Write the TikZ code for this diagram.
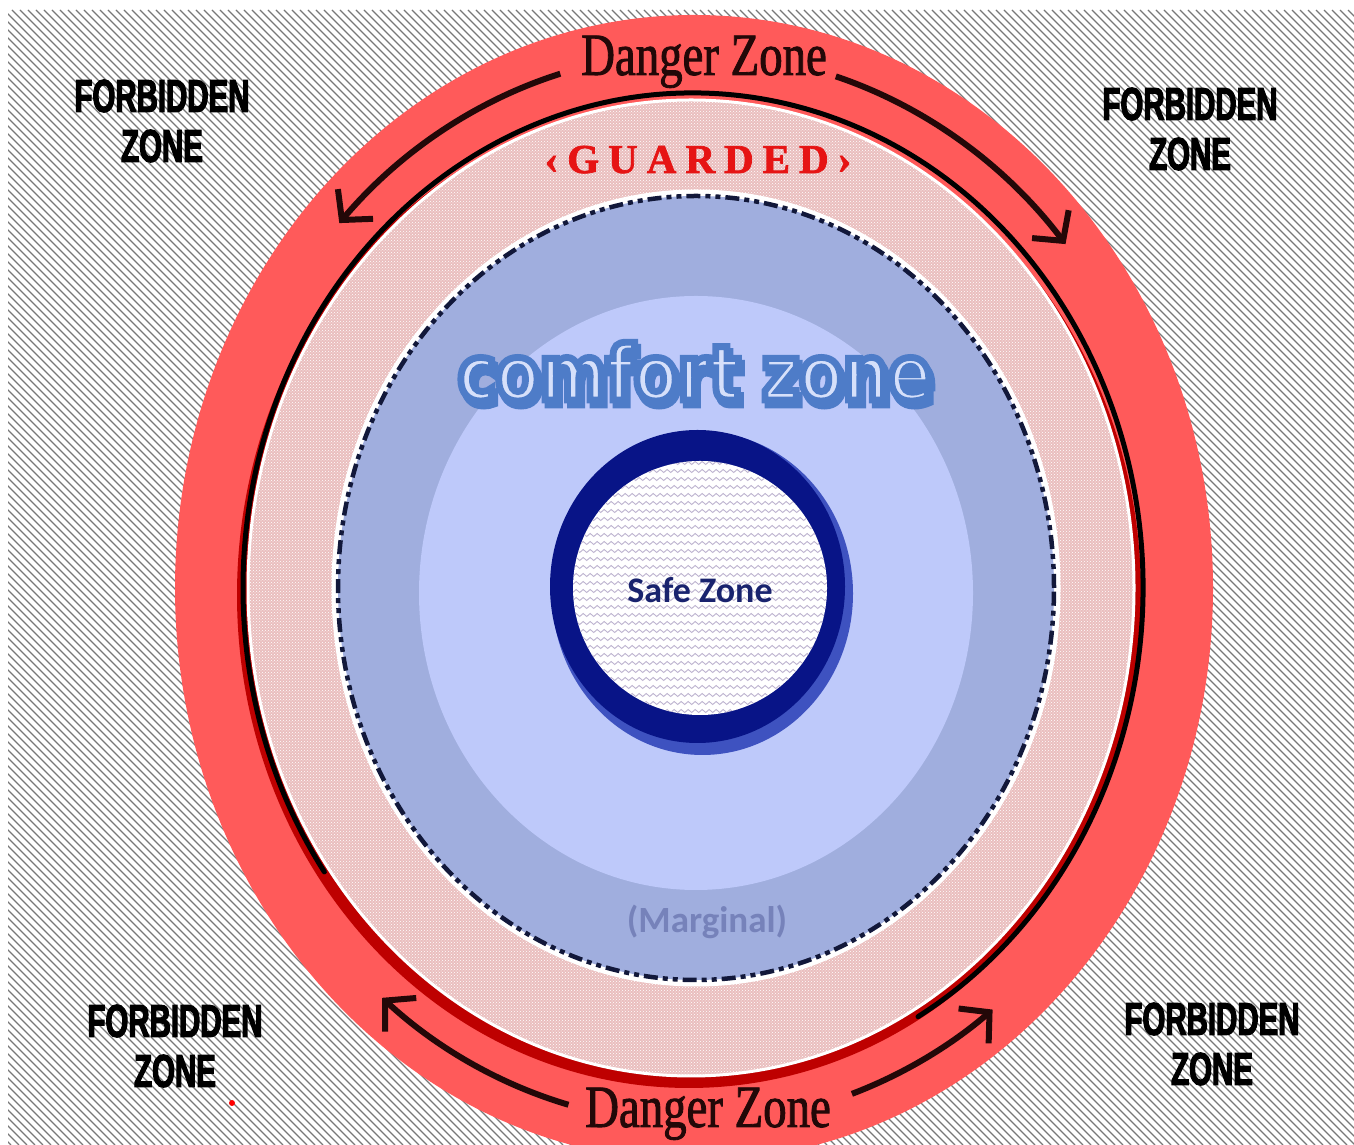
\documentclass[tikz,border=0pt]{standalone}
\usepackage{fontspec}
\usepackage{tikz}
\usetikzlibrary{arrows.meta, patterns, decorations.pathmorphing}
\newfontfamily\dangerfont[FakeStretch=0.78,FakeBold=1.4]{Liberation Serif}
\newfontfamily\guardfont[LetterSpace=22,FakeBold=1.8]{Liberation Serif}
\newfontfamily\forbfont[FakeStretch=0.64,FakeBold=2.5]{Liberation Sans}
\newfontfamily\comfortfont[FakeStretch=0.84,FakeBold=9]{DejaVu Sans}
\newfontfamily\calfont{Carlito}
\definecolor{dangerred}{RGB}{255, 90, 90}
\definecolor{rimred}{RGB}{190, 0, 0}
\definecolor{guardpink}{RGB}{234, 190, 190}
\definecolor{marginblue}{RGB}{160, 174, 222}
\definecolor{comfortblue}{RGB}{190, 201, 250}
\definecolor{outlineblue}{RGB}{78, 124, 200}
\definecolor{letterblue}{RGB}{214, 224, 250}
\definecolor{safenavy}{RGB}{8, 20, 135}
\definecolor{safeedge}{RGB}{62, 82, 192}
\definecolor{safetext}{RGB}{25, 35, 110}
\definecolor{margintext}{RGB}{118, 130, 186}
\definecolor{hatchgray}{RGB}{120, 120, 120}
\definecolor{wavegray}{RGB}{190, 180, 208}
\definecolor{dashnavy}{RGB}{18, 24, 58}
\definecolor{inkdark}{RGB}{35, 8, 8}
\definecolor{guardred}{RGB}{230, 20, 20}
% stroke colour for the outlined lettering
\newcommand{\outlinestroke}{\special{pdf:code 0.306 0.486 0.784 RG}}

\begin{document}
\begin{tikzpicture}[
    x=1pt, y=1pt,
    hatchline/.style={draw=hatchgray, line width=1.3},
    waveline/.style={
        draw=wavegray,
        line width=0.9,
        decorate,
        decoration={snake, amplitude=1.5, segment length=7}
    },
    blackrim/.style={draw=black, line width=5, line cap=round},
    guardzone/.style={
        pattern=crosshatch dots,
        pattern color=white,
        preaction={fill=guardpink},
        draw=white,
        line width=3
    },
    dashrim/.style={
        draw=dashnavy,
        line width=4.5,
        dash pattern=on 14 off 5 on 5 off 5 on 5 off 5
    },
    flowarrow/.style={
        draw=inkdark,
        line width=6,
        -{Straight Barb[length=21, width=46, line width=6]}
    },
    dangerlabel/.style={
        anchor=base,
        inner sep=0pt,
        text=inkdark,
        font=\dangerfont\fontsize{60}{66}\selectfont
    },
    forbidlabel/.style={
        align=center,
        inner sep=0pt,
        text=black,
        font=\forbfont\bfseries\fontsize{46}{50}\selectfont
    },
    comfortlabel/.style={
        anchor=base,
        inner sep=0pt,
        font=\comfortfont\bfseries\fontsize{76}{80}\selectfont
    }
]

    % Frame
    \useasboundingbox (0,0) rectangle (1354,1145);
    \fill[white] (0,0) rectangle (1354,1145);
    \begin{scope}
        \clip (8,0) rectangle (1354,1135);
        \foreach \k in {-1140,-1132,...,1354}
            \draw[hatchline] (\k,1135) -- ++(1135,-1135);
    \end{scope}

    % Rings
    \coordinate (ctr) at (694,557);
    \fill[dangerred] (ctr) ellipse [x radius=519, y radius=573];
    \fill[rimred] (689,550) ellipse [x radius=452, y radius=493];
    \draw[blackrim] ([shift={(-60:450 and 495)}]693,557)
        arc[start angle=-60, end angle=215, x radius=450, y radius=495];
    \path[guardzone] (691,557) ellipse [x radius=443, y radius=488];
    \draw[white, line width=9] (696,557) ellipse [x radius=360, y radius=394];
    \fill[marginblue] (696,557) ellipse [x radius=358, y radius=392];
    \draw[dashrim] (696,557) ellipse [x radius=358, y radius=392];
    \fill[comfortblue] (696,552) ellipse [x radius=277, y radius=297];

    % Comfort zone lettering
    \node[comfortlabel, text=outlineblue] (comfort_shadow) at (698,740) {comfort zone};
    \node[comfortlabel, text=letterblue] (comfort) at (695,745) {\outlinestroke comfort zone};

    % Safe zone
    \fill[safeedge] (702.5,551.5) ellipse [x radius=150.5, y radius=161.5];
    \fill[safenavy] (697.5,558.5) ellipse [x radius=147.5, y radius=156.5];
    \fill[white] (700,557) circle (127);
    \begin{scope}
        \clip (700,557) circle (127);
        \foreach \k in {426,434,...,690}
            \draw[waveline] (560,\k) -- (840,\k);
    \end{scope}
    \node[anchor=base, inner sep=0pt, text=safetext, font=\calfont\bfseries\fontsize{36}{40}\selectfont] (safe) at (700,542) {Safe Zone};
    \node[anchor=base, inner sep=0pt, text=margintext, font=\calfont\bfseries\fontsize{37}{42}\selectfont] (marginal) at (707,212) {(Marginal)};

    % Labels
    \node[anchor=base, inner sep=0pt, text=guardred, font=\guardfont\bfseries\fontsize{41}{45}\selectfont] (guarded) at (698,972) {‹GUARDED›};
    \node[dangerlabel] (danger_top) at (704,1070) {Danger Zone};
    \node[dangerlabel] (danger_bottom) at (708,18) {Danger Zone};

    \node[forbidlabel] (forbid_tl) at (162,1024) {FORBIDDEN\\ZONE};
    \node[forbidlabel] (forbid_tr) at (1190,1016) {FORBIDDEN\\ZONE};
    \node[forbidlabel] (forbid_bl) at (175,99) {FORBIDDEN\\ZONE};
    \node[forbidlabel] (forbid_br) at (1212,101) {FORBIDDEN\\ZONE};
    \fill[red] (232,42) circle (3);

    % Arrows
    \coordinate (arr_tl) at ([shift={(106:485 and 535)}]ctr);
    \coordinate (arr_tr) at ([shift={(73:485 and 535)}]ctr);
    \coordinate (arr_bl) at ([shift={(255:485 and 535)}]ctr);
    \coordinate (arr_br) at ([shift={(-71:485 and 535)}]ctr);
    \draw[flowarrow] (arr_tl) arc[start angle=106, end angle=137, x radius=485, y radius=535];
    \draw[flowarrow] (arr_tr) arc[start angle=73, end angle=40, x radius=485, y radius=535];
    \draw[flowarrow] (arr_bl) arc[start angle=255, end angle=230, x radius=485, y radius=535];
    \draw[flowarrow] (arr_br) arc[start angle=-71, end angle=-52, x radius=485, y radius=535];

\end{tikzpicture}
\end{document}
